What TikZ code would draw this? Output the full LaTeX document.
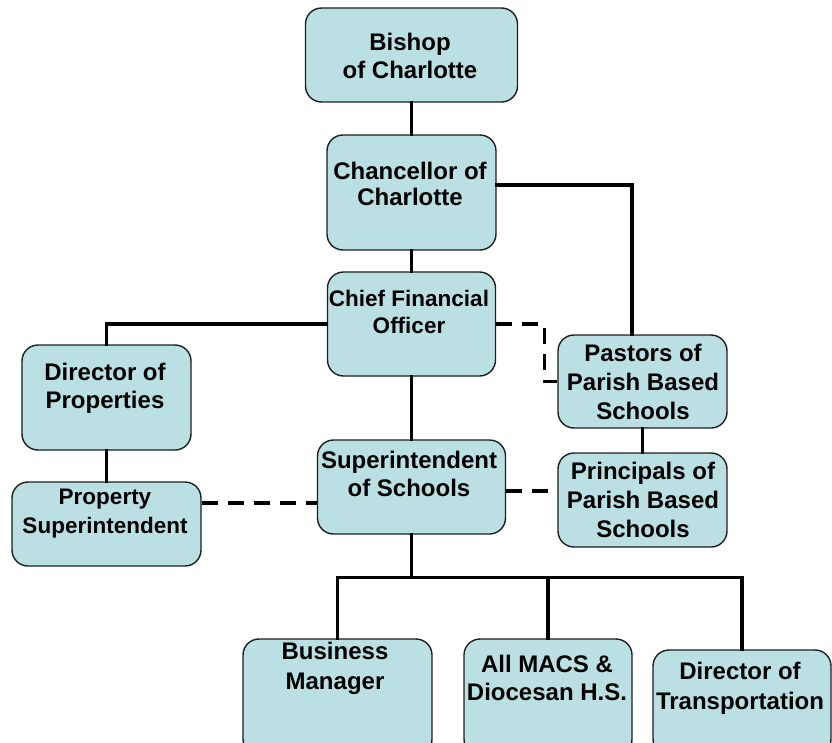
\documentclass[tikz,border=0pt]{standalone}
\usepackage{fontspec}
\setmainfont{Liberation Sans}
\usetikzlibrary{calc}
\definecolor{boxfill}{RGB}{187,224,227}
\definecolor{boxline}{RGB}{30,30,30}
\tikzset{
  orgbox/.style={draw=boxline, line width=1.4pt, fill=boxfill, rounded corners=16pt, inner sep=0pt},
  lbl/.style={align=center, inner sep=0pt, font=\bfseries\fontsize{24}{28}\selectfont,
    execute at begin node=\strut, execute at end node=\strut},
  conn/.style={line width=3.2pt, line cap=rect},
  dconn/.style={line width=3.2pt, dash pattern=on 16pt off 10pt}
}
\begin{document}
\begin{tikzpicture}[x=1pt,y=-1pt]
\useasboundingbox (0,0) rectangle (832,742);
% boxes
\node[orgbox, minimum width=212pt, minimum height=94pt] (bishop) at (411.5,55) {};
\node[orgbox, minimum width=169pt, minimum height=115pt] (chan) at (411.5,192.5) {};
\node[orgbox, minimum width=168pt, minimum height=104pt] (cfo) at (411.5,324) {};
\node[orgbox, minimum width=169pt, minimum height=105pt] (dirprop) at (106.5,397.5) {};
\node[orgbox, minimum width=169pt, minimum height=93pt] (past) at (642.5,381.5) {};
\node[orgbox, minimum width=188pt, minimum height=94pt] (sup) at (411.5,487) {};
\node[orgbox, minimum width=169pt, minimum height=94pt] (prin) at (642.5,500) {};
\node[orgbox, minimum width=189pt, minimum height=84pt] (propsup) at (106.5,524) {};
\node[orgbox, minimum width=189pt, minimum height=116pt] (bm) at (337.5,697) {};
\node[orgbox, minimum width=168pt, minimum height=116pt] (macs) at (548,697) {};
\node[orgbox, minimum width=178pt, minimum height=105pt] (dot) at (742,702.5) {};
% texts
\node[lbl] (bishopT) at (410,60.5) {Bishop\\of Charlotte};
\node[lbl, font=\bfseries\fontsize{24}{26}\selectfont] (chanT) at (410,187.5) {Chancellor of\\Charlotte};
\node[lbl, font=\bfseries\fontsize{22.5}{27}\selectfont] (cfoT) at (409,316) {Chief Financial\\Officer};
\node[lbl] (dirpropT) at (105,390) {Director of\\Properties};
\node[lbl, font=\bfseries\fontsize{24}{29}\selectfont] (pastT) at (643,386) {Pastors of\\Parish Based\\Schools};
\node[lbl] (supT) at (409,478) {Superintendent\\of Schools};
\node[lbl, font=\bfseries\fontsize{24}{29}\selectfont] (prinT) at (643,504) {Principals of\\Parish Based\\Schools};
\node[lbl, font=\bfseries\fontsize{22.5}{28.5}\selectfont] (propsupT) at (105,515.5) {Property\\Superintendent};
\node[lbl, font=\bfseries\fontsize{24}{30}\selectfont] (bmT) at (335,670) {Business\\Manager};
\node[lbl] (macsT) at (547,682) {All MACS \&\\Diocesan H.S.};
\node[lbl, font=\bfseries\fontsize{24}{30}\selectfont] (dotT) at (740,690) {Director of\\Transportation};
% helper coordinates
\coordinate (chanR) at ($(chan.east)+(0,-7.5)$);
\coordinate (pastTop) at ($(past.north)+(-10.5,0)$);
\coordinate (propR) at ($(propsup.east)+(0,-21)$);
\coordinate (supR) at ($(sup.east)+(0,4)$);
\coordinate (bus) at ($(sup.south)+(0,43)$);
% connectors
\begin{scope}[on background layer/.style={}]
\end{scope}
\draw[conn] (bishop.south) -- (chan.north);
\draw[conn] (chan.south) -- (cfo.north);
\draw[conn] (chanR) -| (pastTop);
\draw[conn] (cfo.south) -- (sup.north);
\draw[conn] (cfo.west) -| (dirprop.north);
\draw[conn] (dirprop.south) -- (propsup.north);
\draw[conn] (past.south) -- (prin.north);
\draw[dconn] (cfo.east) -- ++(48,0) |- (past.west);
\draw[dconn] (propR) -- (propR -| sup.west);
\draw[dconn] (supR) -- (supR -| prin.west);
\draw[conn] (sup.south) -- (bus);
\draw[conn] (bm.north) |- (bus -| dot.north) -- (dot.north);
\draw[conn] (macs.north) -- (macs.north |- bus);
\end{tikzpicture}
\end{document}
